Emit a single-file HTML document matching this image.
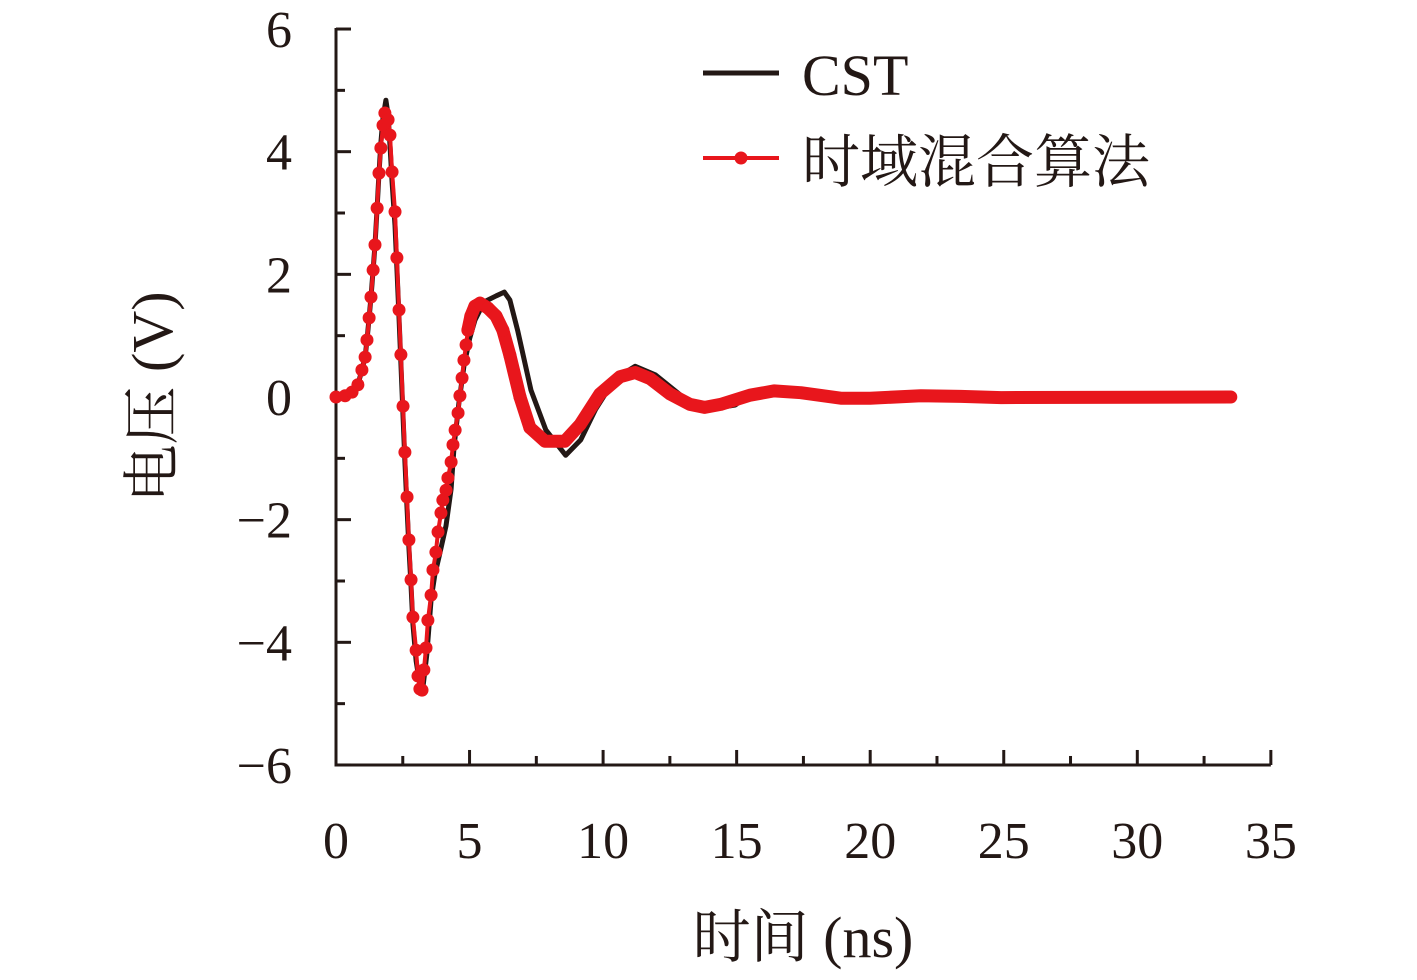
<!DOCTYPE html>
<html><head><meta charset="utf-8"><style>
body{margin:0;background:#fff}
svg{display:block}
text{font-family:"Liberation Serif","Noto Serif CJK SC",serif;fill:#231815}
</style></head><body>
<svg id="chart" width="1417" height="980" viewBox="0 0 1417 980" xmlns="http://www.w3.org/2000/svg">
<g id="axes"></g>
<g id="series"></g>
<g>
  <line x1="703" y1="73" x2="779" y2="73" stroke="#231815" stroke-width="5"/>
  <text x="802" y="95" font-size="58">CST</text>
  <line x1="703" y1="158" x2="779" y2="158" stroke="#e8161c" stroke-width="4"/>
  <circle cx="741" cy="158" r="6.5" fill="#e8161c"/>
  <text x="802" y="182" font-size="58">时域混合算法</text>
</g>
<text x="803" y="957" font-size="58" text-anchor="middle">时间 (ns)</text>
<text transform="translate(172,397) rotate(-90)" font-size="58" text-anchor="middle">电压 (V)</text>
</svg>
<script>
const xTicks=[0,5,10,15,20,25,30,35];
const yTicks=[-6,-4,-2,0,2,4,6];
const yTickLabels=["−6","−4","−2","0","2","4","6"];
const cstT=[0,0.6,0.82,0.97,1.09,1.16,1.24,1.31,1.39,1.46,1.54,1.61,1.68,1.76,1.87,1.95,2.02,2.1,2.21,2.28,2.36,2.43,2.51,2.58,2.66,2.73,2.81,2.88,3.0,3.14,3.25,3.4,3.56,3.7,3.86,4.12,4.31,4.42,4.6,4.79,5.0,5.2,5.55,6.0,6.3,6.51,6.8,7.3,7.86,8.6,9.16,9.72,10.45,11.2,11.96,12.9,13.8,14.95,15.51,16.1,16.6,17.4,18.9,20,21.9,23.4,24.9,33.5];
const cstV=[0,0.08,0.2,0.44,0.65,0.93,1.29,1.63,2.07,2.48,3.08,3.65,4.15,4.55,4.84,4.6,4.1,3.5,2.8,2.1,1.3,0.55,-0.3,-1.05,-1.8,-2.45,-3.1,-3.7,-4.3,-4.7,-4.75,-4.2,-3.3,-2.9,-2.6,-2.1,-1.5,-0.8,-0.1,0.5,0.95,1.25,1.55,1.65,1.71,1.58,1.09,0.11,-0.54,-0.95,-0.7,-0.2,0.3,0.5,0.36,0.03,-0.21,-0.13,0.05,0.11,0.1,0.07,-0.02,-0.02,0.02,0.01,-0.01,0];
const hybT=[0,0.34,0.6,0.82,0.97,1.09,1.16,1.24,1.31,1.39,1.46,1.54,1.61,1.68,1.76,1.83,1.95,2.02,2.1,2.21,2.28,2.36,2.43,2.51,2.58,2.66,2.73,2.81,2.88,3.0,3.07,3.14,3.22,3.29,3.37,3.44,3.56,3.63,3.74,3.82,3.93,4.0,4.12,4.19,4.31,4.38,4.46,4.57,4.64,4.72,4.79,4.87,4.94,5.05,5.2,5.39,5.69,5.99,6.25,6.51,6.89,7.26,7.82,8.57,9.14,9.88,10.63,11.2,11.76,12.5,13.25,13.8,14.4,15.5,16.4,17.4,18.9,20,21.9,23.4,24.9,33.5];
const hybV=[0,0.02,0.08,0.2,0.44,0.65,0.93,1.29,1.63,2.07,2.48,3.08,3.65,4.06,4.43,4.63,4.52,4.27,3.67,3.02,2.27,1.42,0.69,-0.15,-0.9,-1.63,-2.33,-2.98,-3.59,-4.13,-4.55,-4.76,-4.78,-4.45,-4.09,-3.64,-3.23,-2.82,-2.53,-2.2,-1.89,-1.68,-1.52,-1.32,-1.06,-0.78,-0.54,-0.26,0.02,0.31,0.6,0.85,1.09,1.32,1.48,1.53,1.45,1.32,1.09,0.68,0,-0.5,-0.72,-0.72,-0.45,0.05,0.33,0.4,0.3,0.05,-0.12,-0.17,-0.12,0.03,0.1,0.07,-0.02,-0.02,0.02,0.01,-0.01,0];

const X0=336,XS=26.71,Y0=397,YS=61.33;
const xs=t=>X0+t*XS, ys=v=>Y0-v*YS;
const NS="http://www.w3.org/2000/svg";
const axes=document.getElementById('axes'), series=document.getElementById('series');
function mk(tag,attrs,parent){const e=document.createElementNS(NS,tag);for(const k in attrs)e.setAttribute(k,attrs[k]);parent.appendChild(e);return e;}

let e=mk('line',{x1:xs(0),y1:ys(6)-1,x2:xs(0),y2:ys(-6)+1.5,stroke:'#231815','stroke-width':3},axes);


e=mk('line',{x1:xs(0)-1.5,y1:ys(-6),x2:xs(35),y2:ys(-6),stroke:'#231815','stroke-width':3},axes);


for(let v=-6;v<=6;v+=1){
  const major=(v%2===0);
  e=mk('line',{x1:xs(0),y1:ys(v),x2:xs(0)+(major?15:9),y2:ys(v),stroke:'#231815','stroke-width':3},axes);
  
  
}
yTicks.forEach((v,i)=>{
  const t=mk('text',{x:292,y:ys(v)+18,'font-size':52,'text-anchor':'end'},axes);
  t.textContent=yTickLabels[i];
  
  
});
for(let x=0;x<=35;x+=2.5){
  const major=(x%5===0);
  e=mk('line',{x1:xs(x),y1:ys(-6),x2:xs(x),y2:ys(-6)-(major?15:9),stroke:'#231815','stroke-width':3},axes);
  
  
}
xTicks.forEach(x=>{
  const t=mk('text',{x:xs(x),y:858,'font-size':52,'text-anchor':'middle'},axes);
  t.textContent=String(x);
  
  
});

function pts(T,V,filter){let s='';T.forEach((t,i)=>{if(!filter||filter(t))s+=xs(t).toFixed(1)+','+ys(V[i]).toFixed(1)+' ';});return s;}
e=mk('polyline',{points:pts(cstT,cstV),fill:'none',stroke:'#231815','stroke-width':5,'stroke-linejoin':'round'},series);


e=mk('polyline',{points:pts(hybT,hybV),fill:'none',stroke:'#e8161c','stroke-width':4,'stroke-linejoin':'round'},series);


e=mk('polyline',{points:pts(hybT,hybV,t=>t>=4.9),fill:'none',stroke:'#e8161c','stroke-width':13,'stroke-linejoin':'round','stroke-linecap':'round'},series);


hybT.forEach((t,i)=>{
  if(t>7.5)return;
  const c=mk('circle',{cx:xs(t),cy:ys(hybV[i]),r:6.5,fill:'#e8161c'},series);
  
  
});
</script>
</body></html>
